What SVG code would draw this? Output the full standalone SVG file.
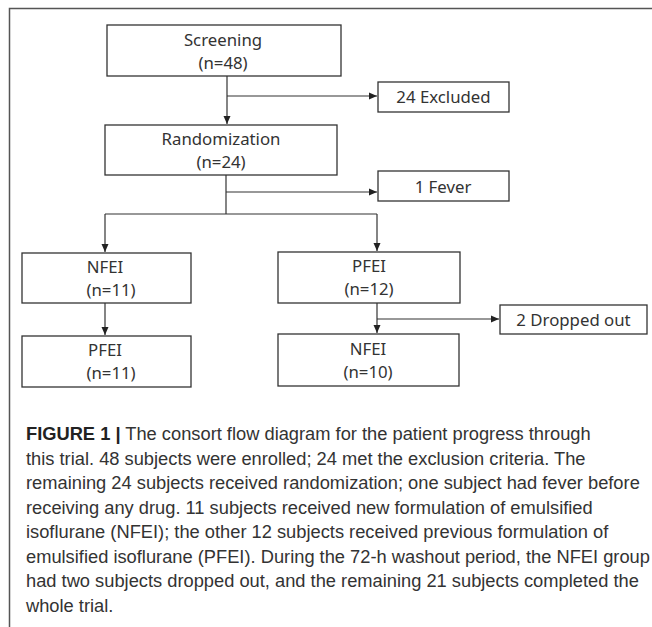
<svg xmlns="http://www.w3.org/2000/svg" width="652" height="627" viewBox="0 0 652 627">
<style>
.box{fill:#fff;stroke:#333;stroke-width:1.3}
.bt{font-family:"Noto Sans","Liberation Sans",sans-serif;font-size:16.8px;fill:#333;text-anchor:middle}
.con{fill:none;stroke:#333;stroke-width:1.2}
.cap{font-family:"Liberation Sans",Arial,sans-serif;font-size:18.3px;fill:#333}
.frame{fill:none;stroke:#555;stroke-width:1.5}
</style>
<defs>
<marker id="arr" markerUnits="userSpaceOnUse" markerWidth="9" markerHeight="8" refX="8" refY="4" orient="auto">
<path d="M0,0.5 L8,4 L0,7.5 Z" fill="#222"/>
</marker>
</defs>
<rect width="652" height="627" fill="#fff"/>
<path class="frame" d="M9.5,627 V8.5 H652"/>
<g id="connectors">
<path class="con" d="M227,76 V124" marker-end="url(#arr)"/>
<path class="con" d="M227,96 H377" marker-end="url(#arr)"/>
<path class="con" d="M226,175 V214"/>
<path class="con" d="M226,192 H377" marker-end="url(#arr)"/>
<path class="con" d="M105,214 H377"/>
<path class="con" d="M105,214 V252" marker-end="url(#arr)"/>
<path class="con" d="M377,214 V251" marker-end="url(#arr)"/>
<path class="con" d="M105,303 V335" marker-end="url(#arr)"/>
<path class="con" d="M377,303 V333" marker-end="url(#arr)"/>
<path class="con" d="M377,319 H499" marker-end="url(#arr)"/>
</g>
<g id="screening">
<rect class="box" x="107" y="25" width="234" height="51"/>
<text class="bt" x="223" y="46">Screening</text>
<text class="bt" x="223" y="69">(n=48)</text>
</g>
<g id="excluded">
<rect class="box" x="378" y="82" width="131" height="30"/>
<text class="bt" x="443.5" y="103">24 Excluded</text>
</g>
<g id="randomization">
<rect class="box" x="105" y="125" width="232" height="50"/>
<text class="bt" x="221" y="145">Randomization</text>
<text class="bt" x="221" y="168">(n=24)</text>
</g>
<g id="fever">
<rect class="box" x="378" y="171" width="131" height="30"/>
<text class="bt" x="443" y="193">1 Fever</text>
</g>
<g id="nfei11">
<rect class="box" x="22" y="253" width="169" height="50"/>
<text class="bt" x="105" y="273">NFEI</text>
<text class="bt" x="111" y="296">(n=11)</text>
</g>
<g id="pfei11">
<rect class="box" x="22" y="336" width="169" height="51"/>
<text class="bt" x="105" y="356">PFEI</text>
<text class="bt" x="111" y="379">(n=11)</text>
</g>
<g id="pfei12">
<rect class="box" x="278" y="252" width="182" height="51"/>
<text class="bt" x="369" y="272">PFEI</text>
<text class="bt" x="369" y="295">(n=12)</text>
</g>
<g id="dropped">
<rect class="box" x="500" y="305" width="147" height="29"/>
<text class="bt" x="573.5" y="326">2 Dropped out</text>
</g>
<g id="nfei10">
<rect class="box" x="278" y="334" width="181" height="52"/>
<text class="bt" x="368" y="355">NFEI</text>
<text class="bt" x="368" y="378">(n=10)</text>
</g>
<g id="caption">
<text class="cap" x="26" y="440"><tspan font-weight="bold" fill="#222">FIGURE 1 |</tspan> The consort flow diagram for the patient progress through</text>
<text class="cap" x="26" y="464.5">this trial. 48 subjects were enrolled; 24 met the exclusion criteria. The</text>
<text class="cap" x="26" y="489">remaining 24 subjects received randomization; one subject had fever before</text>
<text class="cap" x="26" y="513.5">receiving any drug. 11 subjects received new formulation of emulsified</text>
<text class="cap" x="26" y="538">isoflurane (NFEI); the other 12 subjects received previous formulation of</text>
<text class="cap" x="26" y="562.5">emulsified isoflurane (PFEI). During the 72-h washout period, the NFEI group</text>
<text class="cap" x="26" y="587">had two subjects dropped out, and the remaining 21 subjects completed the</text>
<text class="cap" x="26" y="611.5">whole trial.</text>
</g>
</svg>
